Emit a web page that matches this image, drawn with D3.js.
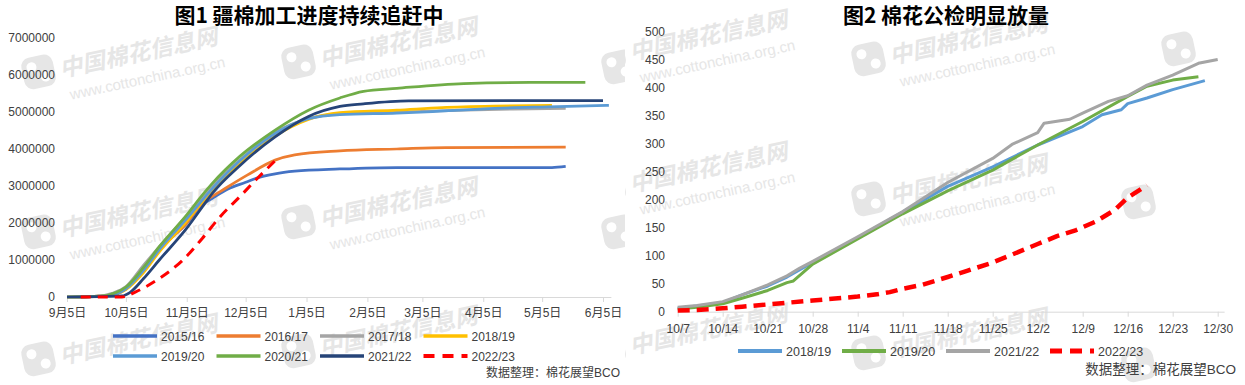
<!DOCTYPE html>
<html>
<head>
<meta charset="utf-8">
<script src="https://cdn.jsdelivr.net/npm/d3@7"></script>
<style>
  body { margin: 0; background: #fff; }
  svg { display: block; }
  text { font-family: "Liberation Sans", "Noto Sans CJK SC", sans-serif; }
</style>
</head>
<body>
<svg id="chart" width="1245" height="385"></svg>
<script>
// ---- data: figure 1 (Xinjiang ginning progress, tonnes) ----
const leftTickDates = ["9/5", "10/5", "11/5", "12/5", "1/5", "2/5", "3/5", "4/5", "5/5", "6/5"];
const leftTickLabels = ["9月5日", "10月5日", "11月5日", "12月5日", "1月5日", "2月5日", "3月5日", "4月5日", "5月5日", "6月5日"];
const leftSeasons = ["2015/16", "2016/17", "2017/18", "2018/19", "2019/20", "2020/21", "2021/22", "2022/23"];

const s1516 = [["9/5",0],["9/25",30000],["10/5",220000],["10/14",720000],["10/22",1280000],["11/5",1990000],["11/13",2500000],["11/18",2670000],["11/26",2920000],["12/5",3100000],["12/11",3220000],["12/20",3330000],["12/30",3400000],["1/22",3460000],["2/20",3500000],["5/10",3500000],["5/17",3530000]];
const s1617 = [["9/5",0],["9/25",30000],["10/5",220000],["10/14",720000],["10/22",1280000],["11/5",2000000],["11/13",2550000],["11/18",2720000],["11/22",2850000],["12/6",3300000],["12/20",3700000],["12/30",3840000],["1/22",3950000],["2/20",4000000],["3/17",4040000],["5/17",4050000]];
const s1718 = [["9/5",0],["9/20",20000],["9/28",100000],["10/5",280000],["10/14",860000],["10/22",1360000],["11/5",2200000],["11/18",3000000],["12/2",3700000],["12/20",4450000],["1/6",4820000],["1/22",4950000],["2/20",5000000],["3/20",5040000],["4/20",5080000],["5/17",5100000]];
const s1819 = [["9/5",0],["9/25",30000],["10/5",200000],["10/14",660000],["10/22",1220000],["11/5",2050000],["11/18",2900000],["12/2",3600000],["12/20",4350000],["1/6",4800000],["1/22",4980000],["2/20",5050000],["3/15",5120000],["4/10",5160000],["5/10",5180000]];
const s1920 = [["9/5",0],["9/25",30000],["10/5",220000],["10/14",720000],["10/22",1280000],["11/5",2120000],["11/18",2930000],["12/2",3680000],["12/20",4420000],["1/6",4820000],["1/22",4930000],["2/20",4970000],["3/7",5000000],["4/11",5100000],["5/8",5140000],["6/8",5180000]];
const s2021 = [["9/5",0],["9/22",20000],["9/30",120000],["10/5",270000],["10/14",800000],["10/22",1360000],["11/5",2220000],["11/13",2760000],["11/18",3070000],["12/2",3800000],["12/20",4510000],["1/6",5050000],["1/22",5380000],["2/3",5560000],["2/20",5640000],["3/26",5770000],["4/29",5800000],["5/27",5800000]];
const s2122 = [["9/5",0],["10/3",30000],["10/7",120000],["10/14",500000],["10/22",1000000],["11/5",1860000],["11/13",2440000],["11/18",2800000],["12/2",3550000],["12/20",4330000],["1/6",4880000],["1/22",5150000],["2/3",5220000],["2/26",5300000],["6/5",5310000]];
const s2223 = [["9/12",0],["10/3",0],["10/10",140000],["10/22",500000],["11/3",1000000],["11/13",1590000],["11/22",2170000],["12/2",2710000],["12/11",3210000],["12/20",3680000]];
const leftSeries = [s1516, s1617, s1718, s1819, s1920, s2021, s2122, s2223];

// ---- data: figure 2 (public inspection, 10k tonnes) ----
const rightTickDates = ["10/7", "10/14", "10/21", "10/28", "11/4", "11/11", "11/18", "11/25", "12/2", "12/9", "12/16", "12/23", "12/30"];
const rightSeasons = ["2018/19", "2019/20", "2021/22", "2022/23"];

const r1819 = [["10/7",6],["10/10",10],["10/14",16],["10/17",30],["10/21",46],["10/24",62],["10/28",88],["11/4",132],["11/11",178],["11/18",224],["11/25",259],["12/2",298],["12/9",331],["12/12",352],["12/15",361],["12/16",372],["12/19",382],["12/23",397],["12/28",413]];
const r1920 = [["10/7",5],["10/10",8],["10/14",14],["10/17",24],["10/21",38],["10/24",52],["10/25",55],["10/28",85],["11/4",130],["11/11",175],["11/18",216],["11/25",253],["12/2",298],["12/9",340],["12/16",385],["12/19",403],["12/23",414],["12/27",420]];
const r2122 = [["10/7",8],["10/10",11],["10/14",18],["10/17",30],["10/21",48],["10/24",64],["10/26",78],["10/28",90],["11/4",134],["11/11",179],["11/18",231],["11/25",274],["11/28",299],["12/2",320],["12/3",337],["12/7",344],["12/9",355],["12/13",376],["12/16",386],["12/19",405],["12/23",423],["12/27",444],["12/30",451]];
const r2223 = [["10/7",2],["10/10",3],["10/14",6],["10/17",9],["10/21",13],["10/24",16],["10/28",20],["10/31",23],["11/4",27],["11/7",31],["11/9",35],["11/11",41],["11/14",48],["11/18",62],["11/21",73],["11/25",88],["11/28",102],["12/2",121],["12/5",135],["12/8",146],["12/11",161],["12/14",182],["12/16",204],["12/19",226]];
const rightSeries = [r1819, r1920, r2122, r2223];

// ---- styles ----
const leftColors = ["#4472C4", "#ED7D31", "#A5A5A5", "#FFC000", "#5B9BD5", "#70AD47", "#264478", "#FF0000"];
const rightColors = ["#5B9BD5", "#70AD47", "#A5A5A5", "#FF0000"];
const axisColor = "#d9d9d9";
const textColor = "#404040";
const wmColor = "#e6e6e6";

function toDate(s) {
  const [m, d] = s.split("/").map(Number);
  return new Date(m >= 9 ? 2022 : 2023, m - 1, d);
}

const svg = d3.select("#chart");

// ---- watermarks (logos clipped to their panel, texts kept whole) ----
const defs = svg.append("defs");
defs.append("clipPath").attr("id", "clipL").append("rect").attr("x", 0).attr("y", 0).attr("width", 625).attr("height", 385);
defs.append("clipPath").attr("id", "clipR").append("rect").attr("x", 625).attr("y", 0).attr("width", 620).attr("height", 385);

// mode: "full" = logo + both texts, "cjk" = logo + name only, "logo" = logo only
function watermark(logoG, textG, x, y, mode) {
  const tf = `translate(${x},${y}) rotate(-12)`;
  const l = logoG.append("g").attr("transform", tf);
  l.append("rect").attr("x", 0).attr("y", -26).attr("width", 32).attr("height", 32).attr("rx", 9).attr("fill", wmColor);
  l.append("circle").attr("cx", 10).attr("cy", -16).attr("r", 5).attr("fill", "#fff");
  l.append("circle").attr("cx", 22).attr("cy", -4).attr("r", 5).attr("fill", "#fff");
  if (mode === "logo") return;
  const t = textG.append("g").attr("transform", tf);
  t.append("text").attr("x", 37).attr("y", 0)
    .attr("font-size", 23).attr("font-weight", "bold").attr("font-style", "italic")
    .attr("fill", wmColor).style("font-family", "'Noto Sans CJK SC'")
    .text("中国棉花信息网");
  if (mode === "cjk") return;
  t.append("text").attr("x", 42).attr("y", 24)
    .attr("font-size", 15).attr("fill", wmColor)
    .text("www.cottonchina.org.cn");
}
const wmLogoL = svg.append("g").attr("clip-path", "url(#clipL)");
const wmLogoR = svg.append("g").attr("clip-path", "url(#clipR)");
const wmText = svg.append("g");
[[25, 85, "full"], [285, 75, "full"], [605, 80, "logo"], [25, 245, "full"], [285, 235, "full"], [605, 245, "logo"], [25, 372, "cjk"], [285, 364, "cjk"]]
  .forEach(p => watermark(wmLogoL, wmText, p[0], p[1], p[2]));
[[595, 68, "full"], [855, 72, "full"], [1165, 62, "logo"], [595, 200, "full"], [855, 212, "full"], [1125, 215, "logo"], [595, 362, "cjk"], [855, 366, "cjk"], [1125, 378, "logo"]]
  .forEach(p => watermark(wmLogoR, wmText, p[0], p[1], p[2]));

// ---- titles ----
svg.append("text").attr("x", 309).attr("y", 23).attr("text-anchor", "middle")
  .attr("font-size", 21).attr("font-weight", "bold").style("font-family", "'Noto Sans CJK SC'")
  .attr("fill", "#000").text("图1 疆棉加工进度持续追赶中");
svg.append("text").attr("x", 946).attr("y", 23).attr("text-anchor", "middle")
  .attr("font-size", 21).attr("font-weight", "bold").style("font-family", "'Noto Sans CJK SC'")
  .attr("fill", "#000").text("图2 棉花公检明显放量");

function styleAxis(g) {
  g.select(".domain").attr("stroke", axisColor);
  g.selectAll(".tick line").attr("stroke", axisColor);
  g.selectAll(".tick text").attr("fill", textColor).attr("font-size", 12);
}

// ---- figure 1 ----
const xL = d3.scaleTime()
  .domain([toDate("9/5"), toDate("6/9")])
  .range([67, 67 + 277 * 536 / 273]);
const yL = d3.scaleLinear().domain([0, 7000000]).range([297, 38]);

svg.append("g").attr("transform", "translate(0,297)")
  .call(d3.axisBottom(xL).tickValues(leftTickDates.map(toDate))
    .tickFormat((d, i) => leftTickLabels[i]).tickSize(5).tickSizeOuter(0).tickPadding(6))
  .call(styleAxis);

svg.append("g").attr("transform", "translate(58,0)")
  .call(d3.axisLeft(yL).tickValues(d3.range(0, 7000001, 1000000))
    .tickFormat(d3.format("d")).tickSize(0).tickPadding(3))
  .call(styleAxis)
  .call(g => g.select(".domain").remove());

const lineL = d3.line()
  .curve(d3.curveMonotoneX)
  .x(d => xL(toDate(d[0])))
  .y(d => yL(d[1]));

svg.append("g").selectAll("path")
  .data(leftSeries)
  .join("path")
  .attr("fill", "none")
  .attr("stroke", (d, i) => leftColors[i])
  .attr("stroke-width", (d, i) => i === 7 ? 3 : 2.75)
  .attr("stroke-dasharray", (d, i) => i === 7 ? "10,7" : null)
  .attr("d", lineL);

// legend 1
const legL = svg.append("g");
leftSeasons.forEach((name, i) => {
  const col = i % 4, row = Math.floor(i / 4);
  const x0 = 113 + col * 103.5, y0 = 336 + row * 20;
  legL.append("line").attr("x1", x0).attr("x2", x0 + 44).attr("y1", y0).attr("y2", y0)
    .attr("stroke", leftColors[i]).attr("stroke-width", i === 7 ? 4 : 3.5)
    .attr("stroke-dasharray", i === 7 ? "11,8" : null);
  legL.append("text").attr("x", x0 + 48).attr("y", y0 + 4.5)
    .attr("font-size", 12).attr("fill", textColor).text(name);
});
svg.append("text").attr("x", 620).attr("y", 377).attr("text-anchor", "end")
  .attr("font-size", 12).attr("fill", textColor).text("数据整理：棉花展望BCO");

// ---- figure 2 ----
const dayR = 45 / 7;
const xR = d3.scaleTime()
  .domain([toDate("10/7"), toDate("12/31")])
  .range([677.7, 677.7 + 85 * dayR]);
const yR = d3.scaleLinear().domain([0, 500]).range([311.7, 32]);

svg.append("g").attr("transform", "translate(0,311.7)")
  .call(d3.axisBottom(xR).tickValues(rightTickDates.map(toDate))
    .tickFormat((d, i) => rightTickDates[i]).tickSize(5).tickSizeOuter(0).tickPadding(8))
  .call(styleAxis);

svg.append("g").attr("transform", "translate(668,0)")
  .call(d3.axisLeft(yR).tickValues(d3.range(0, 501, 50)).tickSize(0).tickPadding(3))
  .call(styleAxis)
  .call(g => g.select(".domain").remove());

const lineR = d3.line()
  .x(d => xR(toDate(d[0])))
  .y(d => yR(d[1]));

svg.append("g").selectAll("path")
  .data(rightSeries)
  .join("path")
  .attr("fill", "none")
  .attr("stroke", (d, i) => rightColors[i])
  .attr("stroke-width", (d, i) => i === 3 ? 4.5 : 3)
  .attr("stroke-linejoin", "round")
  .attr("stroke-dasharray", (d, i) => i === 3 ? "12,7" : null)
  .attr("d", lineR);

// legend 2
const legR = svg.append("g");
rightSeasons.forEach((name, i) => {
  const x0 = 738 + i * 104, y0 = 351;
  legR.append("line").attr("x1", x0).attr("x2", x0 + 44).attr("y1", y0).attr("y2", y0)
    .attr("stroke", rightColors[i]).attr("stroke-width", i === 3 ? 5 : 4)
    .attr("stroke-dasharray", i === 3 ? "12,8" : null);
  legR.append("text").attr("x", x0 + 48).attr("y", y0 + 4.5)
    .attr("font-size", 12.5).attr("fill", textColor).text(name);
});
svg.append("text").attr("x", 1236).attr("y", 374).attr("text-anchor", "end")
  .attr("font-size", 13.5).attr("fill", textColor).text("数据整理：棉花展望BCO");
</script>
</body>
</html>
